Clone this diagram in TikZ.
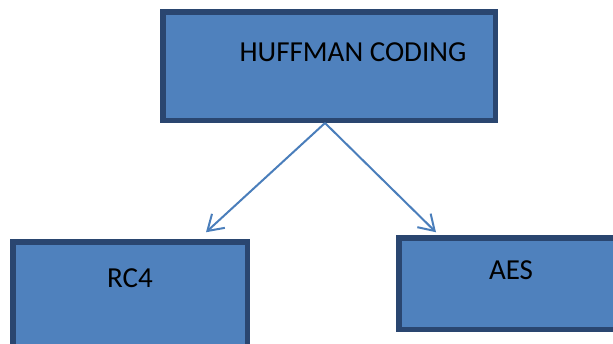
\documentclass[tikz,border=0pt]{standalone}
\usepackage{fontspec}
\setmainfont{Carlito}
\usetikzlibrary{arrows.meta, positioning}
\definecolor{boxfill}{HTML}{4F81BD}
\definecolor{boxedge}{HTML}{2A4670}
\definecolor{linkblue}{HTML}{4A7EBB}

\begin{document}
\begin{tikzpicture}[
  x=1pt, y=-1pt,
  block/.style={rectangle, draw=boxedge, fill=boxfill, line width=5.5pt, inner sep=0pt},
  rootbox/.style={block, minimum width=332.5pt, minimum height=108.5pt},
  leafbox/.style={block, minimum width=234.5pt},
  caption/.style={font=\fontsize{29}{34}\selectfont, text=black, inner sep=0pt},
  arrow/.style={draw=linkblue, line width=2pt, -{Straight Barb[length=15pt, width=19pt]}}
]

% Canvas
\clip (0,0) rectangle (613,343);

% Blocks
\node[rootbox] (huffman) at (329,66) {};
\node[leafbox, minimum height=108.5pt] (rc4) at (130,296) {};
\node[leafbox, minimum height=91.5pt] (aes) at (516,283.5) {};

% Captions
\node[caption] (huffman-text) at ([xshift=24pt, yshift=14pt]huffman.center) {HUFFMAN CODING};
\node[caption] (rc4-text) at ([yshift=18pt]rc4.center) {RC4};
\node[caption] (aes-text) at ([xshift=-5pt, yshift=13.5pt]aes.center) {AES};

% Arrows
\draw[arrow] ([xshift=-4pt]huffman.south) -- ([xshift=76pt, yshift=6.75pt]rc4.north);
\draw[arrow] ([xshift=-4pt]huffman.south) -- ([xshift=-80pt, yshift=2.75pt]aes.north);

\end{tikzpicture}
\end{document}
